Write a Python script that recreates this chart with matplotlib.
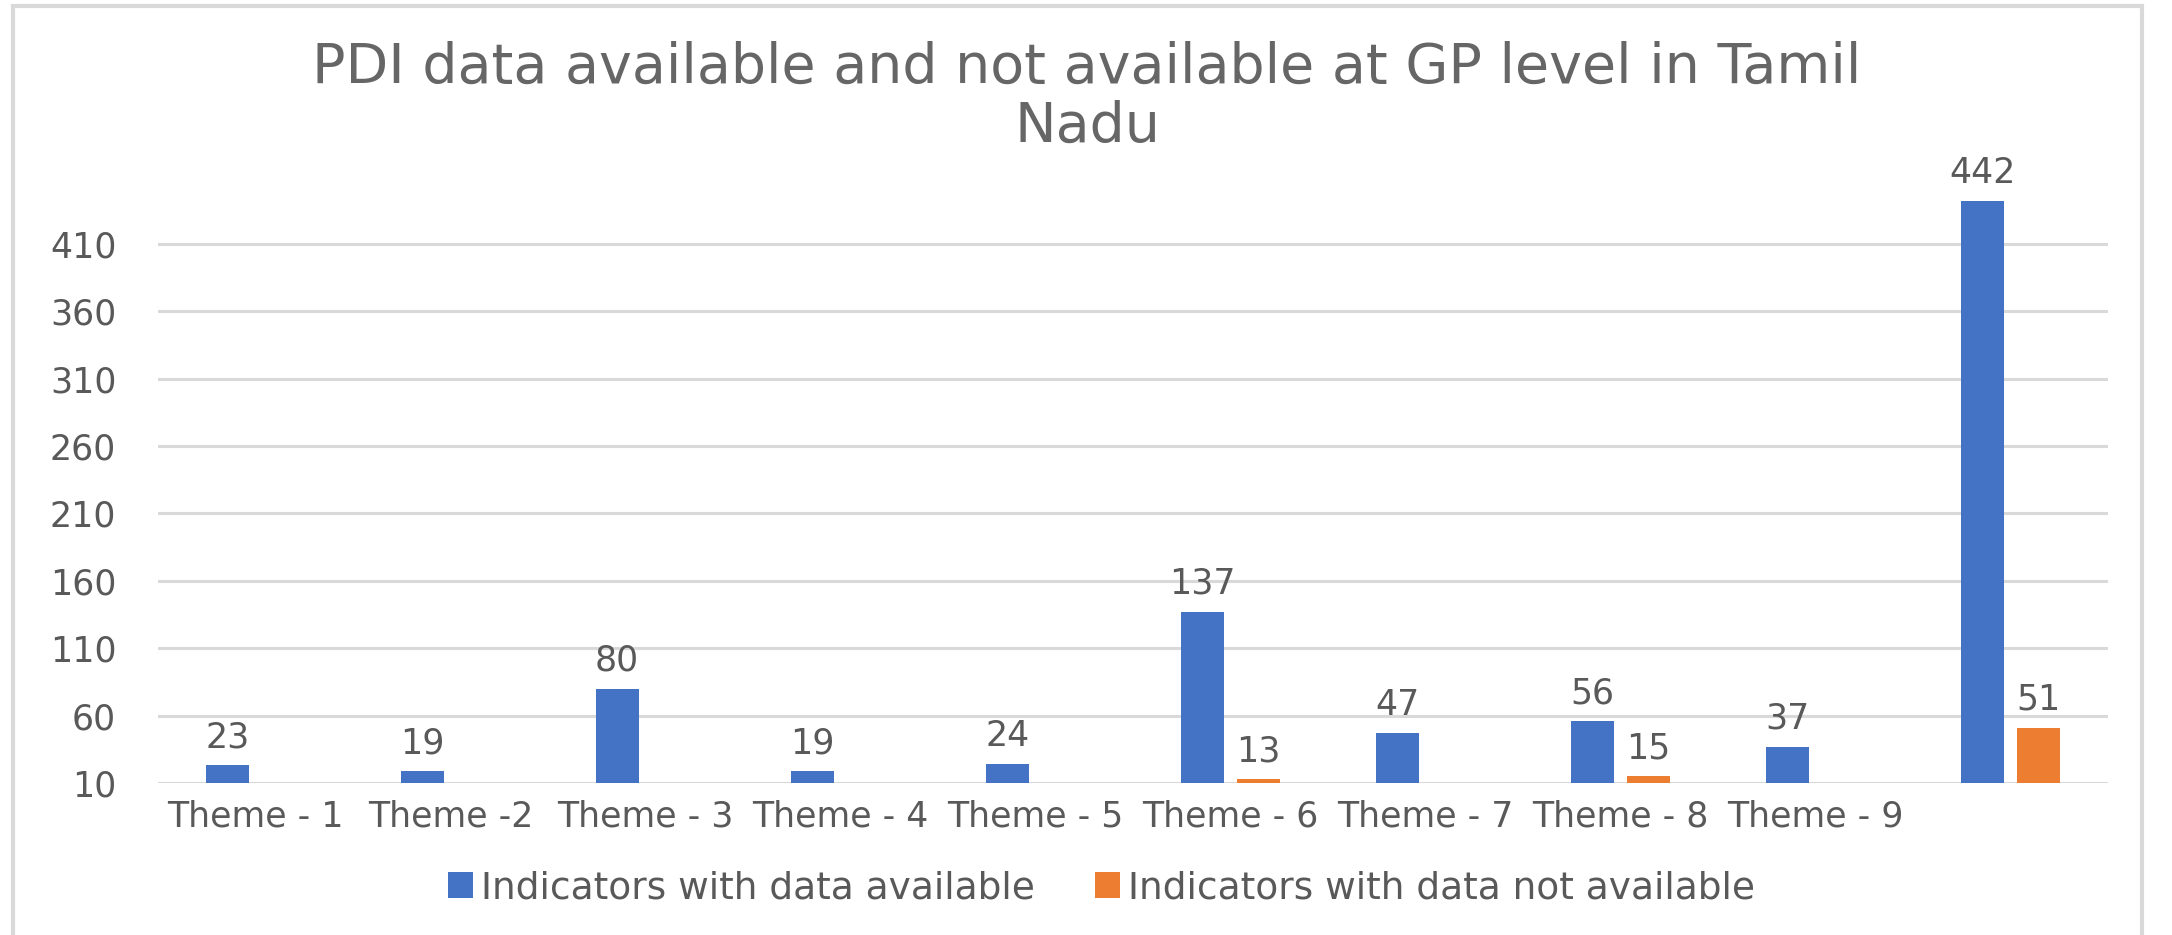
import numpy as np
import matplotlib.pyplot as plt
from matplotlib.patches import Rectangle

themes = ['Theme - 1', 'Theme -2', 'Theme - 3', 'Theme - 4', 'Theme - 5',
          'Theme - 6', 'Theme - 7', 'Theme - 8', 'Theme - 9', '']
available = [23, 19, 80, 19, 24, 137, 47, 56, 37, 442]
not_available = [np.nan, np.nan, np.nan, np.nan, np.nan, 13, np.nan, 15, np.nan, 51]
yticks = [10, 60, 110, 160, 210, 260, 310, 360, 410]

plt.rcParams['font.family'] = ['DejaVu Sans']
grey = '#595959'

fig = plt.figure(figsize=(21.72, 9.35), dpi=100)
ax = fig.add_axes([0.0727, 0.1626, 0.8978, 0.6488])

x = np.arange(len(themes))
w = 0.22
ax.bar(x - 0.145, available, w, color='#4472C4', label='Indicators with data available', zorder=3)
ax.bar(x + 0.145, not_available, w, color='#ED7D31', label='Indicators with data not available', zorder=3)

# value labels above the bars
for xi, v in zip(x, available):
    ax.annotate(str(v), (xi - 0.145, v), xytext=(0, 20), textcoords='offset points',
                ha='center', va='center', fontsize=25, color=grey)
for xi, v in zip(x, not_available):
    if not np.isnan(v):
        ax.annotate(str(int(v)), (xi + 0.145, v), xytext=(0, 20), textcoords='offset points',
                    ha='center', va='center', fontsize=25, color=grey)

ax.set_xlim(-0.5, 9.5)
ax.set_ylim(10, 460)
ax.set_yticks(yticks)
ax.set_xticks(x)
ax.set_xticklabels(themes)
ax.tick_params(axis='both', length=0, labelsize=25, labelcolor=grey)
ax.tick_params(axis='x', pad=12)
ax.tick_params(axis='y', pad=30)
ax.yaxis.grid(True, color='#D9D9D9', lw=2.2)
ax.set_axisbelow(True)
for s in ax.spines.values():
    s.set_visible(False)

fig.text(0.5005, 0.896, 'PDI data available and not available at GP level in Tamil\nNadu',
         ha='center', va='center', fontsize=40, color='#666666', linespacing=1.1)

fig.legend(loc='center', bbox_to_anchor=(0.507, 0.05), ncol=2, frameon=False,
           fontsize=27, labelcolor=grey, handlelength=0.68, handleheight=0.68,
           handletextpad=0.2, columnspacing=1.6)

# chart outline
fig.add_artist(Rectangle((0.0062, -0.05), 0.98, 1.0436, fill=False,
                         edgecolor='#D9D9D9', lw=3, transform=fig.transFigure))

fig.savefig('out.png', dpi=100)
